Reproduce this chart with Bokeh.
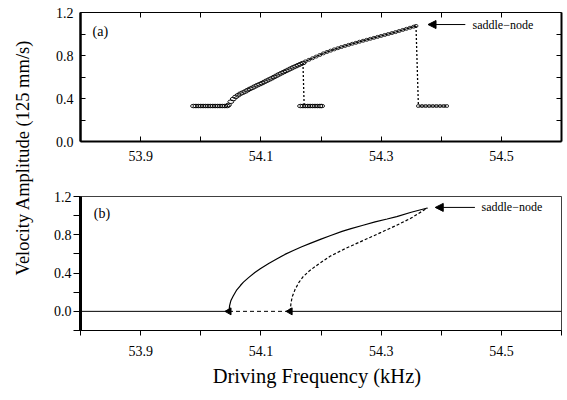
import math
from bokeh.plotting import figure
from bokeh.layouts import row, column
from bokeh.models import (Range1d, LinearAxis, FixedTicker, PrintfTickFormatter,
                          Label, Arrow, NormalHead)
from bokeh.embed import file_html
from bokeh.resources import INLINE

FONT = "Liberation Serif"

# ---------------- data ----------------
x_major = [53.9, 54.1, 54.3, 54.5]
x_minor = [53.8, 54.0, 54.2, 54.4, 54.6]
x_all = [53.8, 53.9, 54.0, 54.1, 54.2, 54.3, 54.4, 54.5, 54.6]
y_major = [0.0, 0.4, 0.8, 1.2]
y_minor_a = [0.2, 0.6, 1.0]
y_minor_b = [-0.2, 0.2, 0.6, 1.0]
y_right_a = [0.2, 0.4, 0.6, 0.8, 1.0]

# (a) measured points
low1_f = [53.988, 53.992, 53.996, 54.000, 54.004, 54.008, 54.012, 54.016,
          54.020, 54.024, 54.028, 54.032, 54.036, 54.040, 54.044]
low1_v = [0.33, 0.33, 0.33, 0.33, 0.33, 0.33, 0.33, 0.33,
          0.33, 0.33, 0.33, 0.33, 0.33, 0.33, 0.33]

rise_f = [54.046, 54.050, 54.054, 54.058, 54.062, 54.066, 54.070, 54.074,
          54.078, 54.082, 54.086, 54.090, 54.094, 54.098, 54.102, 54.106,
          54.110, 54.114, 54.118, 54.122, 54.126, 54.130, 54.134, 54.138,
          54.142, 54.146, 54.150, 54.154, 54.158, 54.162, 54.166, 54.170]
rise_v = [0.34, 0.37, 0.395, 0.415, 0.43, 0.445, 0.455, 0.465,
          0.478, 0.49, 0.50, 0.512, 0.523, 0.533, 0.543, 0.555,
          0.566, 0.577, 0.588, 0.60, 0.612, 0.624, 0.635, 0.646,
          0.657, 0.668, 0.679, 0.69, 0.70, 0.71, 0.72, 0.73]

low2_f = [54.166, 54.170, 54.174, 54.178, 54.182, 54.186, 54.190, 54.194,
          54.198, 54.201]
low2_v = [0.33, 0.33, 0.33, 0.33, 0.33, 0.33, 0.33, 0.33, 0.33, 0.33]

upper_f = [54.174, 54.180, 54.186, 54.192, 54.198, 54.204, 54.210, 54.216,
           54.222, 54.228, 54.234, 54.240, 54.246, 54.252, 54.258, 54.264,
           54.270, 54.276, 54.282, 54.288, 54.294, 54.300, 54.306, 54.312,
           54.318, 54.324, 54.330, 54.336, 54.342, 54.348, 54.354, 54.358]
upper_v = [0.745, 0.76, 0.775, 0.79, 0.805, 0.82, 0.833, 0.845,
           0.857, 0.868, 0.879, 0.889, 0.899, 0.909, 0.918, 0.928,
           0.937, 0.946, 0.955, 0.964, 0.973, 0.982, 0.991, 1.000,
           1.009, 1.018, 1.028, 1.038, 1.048, 1.058, 1.068, 1.075]

low3_f = [54.362, 54.368, 54.374, 54.380, 54.386, 54.392, 54.398, 54.404, 54.409]
low3_v = [0.33, 0.33, 0.33, 0.33, 0.33, 0.33, 0.33, 0.33, 0.33]

jump_f = [[54.170, 54.172], [54.358, 54.362]]
jump_v = [[0.73, 0.33], [1.075, 0.33]]

# (b) theory
stable_f = [54.047, 54.048, 54.050, 54.054, 54.060, 54.066, 54.071, 54.080,
            54.090, 54.099, 54.113, 54.127, 54.140, 54.154, 54.168, 54.182,
            54.200, 54.215, 54.235, 54.250, 54.270, 54.290, 54.310, 54.326,
            54.350, 54.377]
stable_v = [0.0, 0.06, 0.11, 0.16, 0.225, 0.27, 0.305, 0.355,
            0.405, 0.445, 0.50, 0.55, 0.595, 0.635, 0.675, 0.71,
            0.755, 0.79, 0.835, 0.865, 0.90, 0.935, 0.965, 0.99,
            1.035, 1.08]

unstable_f = [54.1486, 54.150, 54.152, 54.157, 54.163, 54.170, 54.180, 54.195,
              54.215, 54.240, 54.270, 54.300, 54.326, 54.350, 54.377]
unstable_v = [0.0, 0.08, 0.15, 0.23, 0.30, 0.36, 0.42, 0.49,
              0.575, 0.655, 0.74, 0.825, 0.90, 0.975, 1.08]

zero_solid_f = [[53.8, 54.047], [54.1486, 54.6]]
zero_solid_v = [[0.0, 0.0], [0.0, 0.0]]
zero_dash_f = [54.047, 54.1486]
zero_dash_v = [0.0, 0.0]
bif_f = [54.047, 54.1486]
bif_v = [0.0, 0.0]


def style_axis(ax, tin, tout, lw):
    ax.major_tick_in = tin
    ax.major_tick_out = tout
    ax.minor_tick_in = tin
    ax.minor_tick_out = tout
    ax.axis_line_width = lw
    ax.axis_line_color = "black"
    ax.major_tick_line_color = "black"
    ax.minor_tick_line_color = "black"
    ax.major_tick_line_width = 1
    ax.minor_tick_line_width = 1
    ax.major_label_text_font = FONT
    ax.major_label_text_color = "black"
    ax.major_label_text_font_size = "14px"


# ---------------- panel (a) ----------------
pa = figure(width=527, height=175, x_range=Range1d(53.8, 54.6), y_range=Range1d(0, 1.2),
            output_backend="svg", toolbar_location=None,
            min_border_left=40, min_border_right=6, min_border_top=12, min_border_bottom=34)
pa.grid.visible = False
pa.outline_line_color = None

xa = pa.xaxis[0]
xa.ticker = FixedTicker(ticks=x_major, minor_ticks=x_minor)
style_axis(xa, 5, 0, 2)
xa.major_label_standoff = 9

ya = pa.yaxis[0]
ya.ticker = FixedTicker(ticks=y_major, minor_ticks=y_minor_a)
ya.formatter = PrintfTickFormatter(format="%.1f")
style_axis(ya, 5, 0, 2.5)
ya.major_label_standoff = 7

# frame axes with ticks only (ticks given as minor ticks -> no labels drawn)
top_a = LinearAxis(ticker=FixedTicker(ticks=[], minor_ticks=x_all))
style_axis(top_a, 5, 0, 1.2)
pa.add_layout(top_a, "above")
right_a = LinearAxis(ticker=FixedTicker(ticks=[], minor_ticks=y_right_a))
style_axis(right_a, 5, 0, 2)
pa.add_layout(right_a, "right")

pa.multi_line(jump_f, jump_v, line_color="black", line_width=1.3, line_dash="2 2")
pa.line(upper_f, upper_v, line_color="black", line_width=1)
pa.ellipse(upper_f, upper_v, width=4, height=3, width_units="screen", height_units="screen",
           fill_color=None, line_color="black", line_width=0.8)
pa.line(low3_f, low3_v, line_color="black", line_width=1)
pa.ellipse(low3_f, low3_v, width=4, height=3, width_units="screen", height_units="screen",
           fill_color=None, line_color="black", line_width=0.8)
for fx, vy in ((low1_f, low1_v), (rise_f, rise_v), (low2_f, low2_v)):
    pa.ellipse(fx, vy, width=6, height=3.5, width_units="screen", height_units="screen",
               fill_color=None, line_color="black", line_width=0.9)

pa.add_layout(Label(x=53.82, y=1.02, text="(a)", text_font=FONT, text_font_size="14px",
                    text_baseline="middle", text_color="black"))
pa.add_layout(Arrow(end=NormalHead(size=8, fill_color="black", line_color="black"),
                    x_start=54.44, y_start=1.088, x_end=54.378, y_end=1.088,
                    line_width=1, line_color="black"))
pa.add_layout(Label(x=54.452, y=1.088, text="saddle\u2212node", text_font=FONT,
                    text_font_size="12px", text_baseline="middle", text_color="black"))

# ---------------- panel (b) ----------------
pb = figure(width=527, height=185, x_range=Range1d(53.8, 54.6), y_range=Range1d(-0.2, 1.2),
            output_backend="svg", toolbar_location=None,
            min_border_left=40, min_border_right=6, min_border_top=21, min_border_bottom=30)
pb.grid.visible = False
pb.outline_line_color = "black"
pb.outline_line_alpha = 0.75
pb.outline_line_width = 1

xb = pb.xaxis[0]
xb.ticker = FixedTicker(ticks=x_major, minor_ticks=x_minor)
style_axis(xb, 0, 5, 1.2)
xb.major_label_standoff = 10

yb = pb.yaxis[0]
yb.ticker = FixedTicker(ticks=y_major, minor_ticks=y_minor_b)
yb.formatter = PrintfTickFormatter(format="%.1f")
style_axis(yb, 0, 7, 3)
yb.major_label_standoff = 2

pb.multi_line(zero_solid_f, zero_solid_v, line_color="black", line_width=1)
pb.line(zero_dash_f, zero_dash_v, line_color="black", line_width=1, line_dash="4 3")
pb.line(stable_f, stable_v, line_color="black", line_width=1.2)
pb.line(unstable_f, unstable_v, line_color="black", line_width=1.2, line_dash="3 2")
pb.scatter(bif_f, bif_v, marker="triangle", angle=math.pi / 2, size=7,
           fill_color="black", line_color="black")

pb.add_layout(Label(x=53.822, y=1.023, text="(b)", text_font=FONT, text_font_size="14px",
                    text_baseline="middle", text_color="black"))
pb.add_layout(Arrow(end=NormalHead(size=8, fill_color="black", line_color="black"),
                    x_start=54.456, y_start=1.086, x_end=54.39, y_end=1.086,
                    line_width=1, line_color="black"))
pb.add_layout(Label(x=54.467, y=1.086, text="saddle\u2212node", text_font=FONT,
                    text_font_size="12px", text_baseline="middle", text_color="black"))

# ---------------- x title strip ----------------
px = figure(width=527, height=40, x_range=Range1d(0, 527), y_range=Range1d(0, 40),
            output_backend="svg", toolbar_location=None, min_border=0,
            x_axis_location=None, y_axis_location=None)
px.grid.visible = False
px.outline_line_color = None
px.add_layout(Label(x=259, y=25, text="Driving Frequency (kHz)", text_font=FONT,
                    text_font_size="20.5px", text_align="center", text_baseline="middle",
                    text_color="black"))

# ---------------- shared y label ----------------
pl = figure(width=40, height=400, x_range=Range1d(0, 40), y_range=Range1d(0, 400),
            output_backend="svg", toolbar_location=None, min_border=0,
            x_axis_location=None, y_axis_location=None)
pl.grid.visible = False
pl.outline_line_color = None
pl.add_layout(Label(x=22, y=243, text="Velocity Amplitude (125 mm/s)", angle=math.pi / 2,
                    text_align="center", text_baseline="middle", text_font=FONT,
                    text_font_size="18.5px", text_color="black"))

layout = row(pl, column(pa, pb, px))
open("out.html", "w").write(file_html(layout, INLINE))
